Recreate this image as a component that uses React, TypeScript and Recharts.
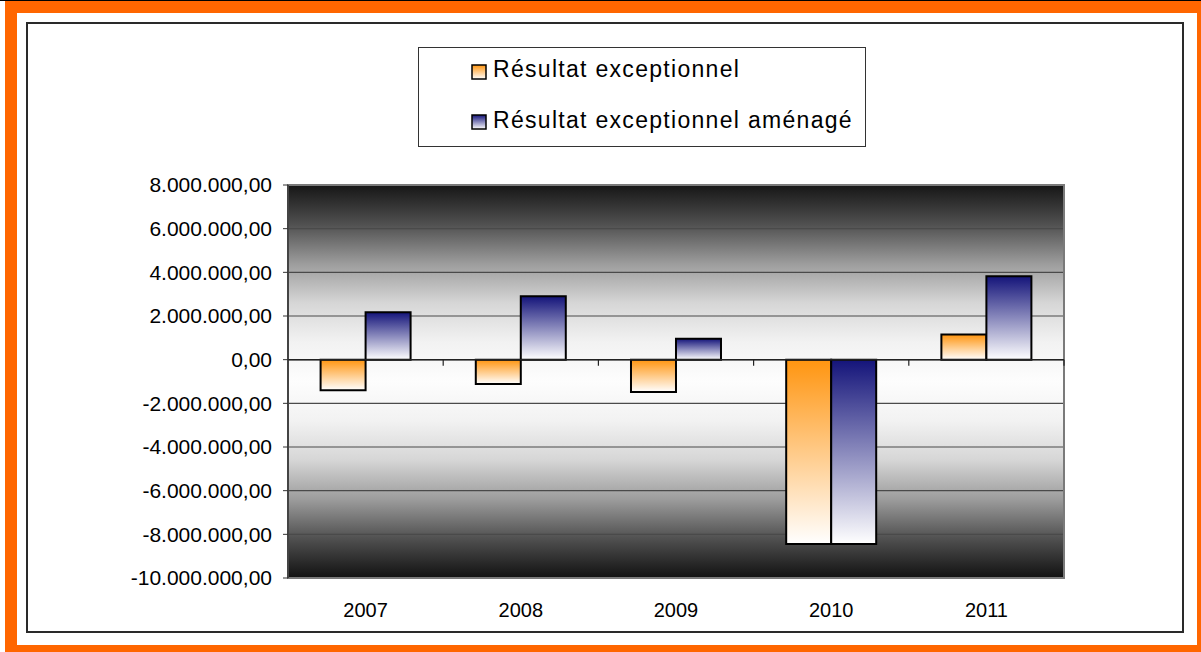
import React from 'react';
import { BarChart, Bar, XAxis, YAxis, CartesianGrid, ReferenceLine, ReferenceArea } from 'recharts';

const years = ['2007', '2008', '2009', '2010', '2011'];
const resultatExceptionnel = [-1400000, -1110000, -1480000, -8440000, 1150000];
const resultatAmenage = [2170000, 2900000, 960000, -8440000, 3820000];
const yTicks = [8000000, 6000000, 4000000, 2000000, 0, -2000000, -4000000, -6000000, -8000000, -10000000];
const seriesNames = ['Résultat exceptionnel', 'Résultat exceptionnel aménagé'];

const data = years.map((y, i) => ({ year: y, a: resultatExceptionnel[i], b: resultatAmenage[i] }));

const FONT = '"Liberation Sans", Arial, sans-serif';

const fmt = (v: number) => {
  const neg = v < 0;
  const s = Math.abs(Math.round(v)).toString().replace(/\B(?=(\d{3})+(?!\d))/g, '.');
  return (neg ? '-' : '') + s + ',00';
};

const ZeroLine = (p: any) => {
  const { x1, y1, x2, y2 } = p;
  const n = years.length;
  const ticks = [];
  for (let i = 1; i <= n; i++) {
    const x = x1 + (i * (x2 - x1)) / n;
    ticks.push(<line key={i} x1={x} x2={x} y1={y1} y2={y1 + 6} stroke="#222" strokeWidth={1.2} />);
  }
  return (
    <g>
      <line x1={x1} y1={y1} x2={x2} y2={y2} stroke="#222" strokeWidth={1.5} />
      {ticks}
    </g>
  );
};

export default function App() {
  return (
    <div style={{ position: 'absolute', left: 0, top: 0, width: 1201, height: 652, background: '#fff', overflow: 'hidden', fontFamily: FONT }}>
      <div style={{ position: 'absolute', left: 0, top: 0, width: 1201, height: 1, background: '#000' }} />
      <div
        style={{
          position: 'absolute', left: 5, top: 1, width: 1196, height: 651, boxSizing: 'border-box',
          borderStyle: 'solid', borderColor: '#FF6600', borderTopWidth: 12, borderLeftWidth: 12, borderRightWidth: 4, borderBottomWidth: 7,
        }}
      />
      <div style={{ position: 'absolute', left: 26, top: 22, width: 1158, height: 611, boxSizing: 'border-box', border: '2px solid #2a2a2a' }} />
      <div style={{ position: 'absolute', left: 0, top: 0 }}>
        <BarChart
          width={1201}
          height={652}
          data={data}
          margin={{ top: 185, right: 137, bottom: 14, left: 168 }}
          barCategoryGap="21%"
          barGap={0}
        >
          <defs>
            <linearGradient id="bgGrad" x1="0" y1="0" x2="0" y2="1">
              <stop offset="0%" stopColor="#161616" />
              <stop offset="10%" stopColor="#505050" />
              <stop offset="20%" stopColor="#9c9c9c" />
              <stop offset="30%" stopColor="#d6d6d6" />
              <stop offset="40%" stopColor="#f2f2f2" />
              <stop offset="50%" stopColor="#fdfdfd" />
              <stop offset="60%" stopColor="#f2f2f2" />
              <stop offset="70%" stopColor="#d6d6d6" />
              <stop offset="80%" stopColor="#9c9c9c" />
              <stop offset="90%" stopColor="#505050" />
              <stop offset="100%" stopColor="#111111" />
            </linearGradient>
            <linearGradient id="orangeGrad" x1="0" y1="0" x2="0" y2="1">
              <stop offset="0%" stopColor="#FF9510" />
              <stop offset="100%" stopColor="#FFFFFF" />
            </linearGradient>
            <linearGradient id="blueGrad" x1="0" y1="0" x2="0" y2="1">
              <stop offset="0%" stopColor="#14147A" />
              <stop offset="100%" stopColor="#FFFFFF" />
            </linearGradient>
          </defs>
          <CartesianGrid vertical={false} fill="url(#bgGrad)" fillOpacity={1} stroke="#4a4a4a" strokeWidth={1.2} />
          <XAxis
            dataKey="year"
            axisLine={false}
            tickLine={false}
            tickMargin={19}
            tick={{ fontSize: 20, fill: '#000', fontFamily: FONT }}
            height={60}
          />
          <YAxis
            domain={[-10000000, 8000000]}
            ticks={yTicks}
            interval={0}
            tickFormatter={fmt}
            width={120}
            tickSize={5}
            tickMargin={11}
            axisLine={{ stroke: '#333', strokeWidth: 1.5 }}
            tickLine={{ stroke: '#333' }}
            tick={{ fontSize: 21, fill: '#000', fontFamily: FONT }}
          />
          <ReferenceArea y1={-10000000} y2={8000000} fill="none" stroke="#7a7a7a" strokeWidth={2} />
          <ReferenceLine y={0} shape={ZeroLine} />
          <Bar dataKey="a" name={seriesNames[0]} fill="url(#orangeGrad)" stroke="#000" strokeWidth={2} isAnimationActive={false} />
          <Bar dataKey="b" name={seriesNames[1]} fill="url(#blueGrad)" stroke="#000" strokeWidth={2} isAnimationActive={false} />
        </BarChart>
      </div>
      <svg style={{ position: 'absolute', left: 418, top: 47 }} width={449} height={101}>
        <defs>
          <linearGradient id="lgO" x1="0" y1="0" x2="0" y2="1">
            <stop offset="0%" stopColor="#FF9510" />
            <stop offset="100%" stopColor="#FFFFFF" />
          </linearGradient>
          <linearGradient id="lgB" x1="0" y1="0" x2="0" y2="1">
            <stop offset="0%" stopColor="#14147A" />
            <stop offset="100%" stopColor="#FFFFFF" />
          </linearGradient>
        </defs>
        <rect x={0.5} y={0.5} width={447} height={99} fill="#fff" stroke="#333" strokeWidth={1} />
        <rect x={54} y={18} width={14} height={14} fill="url(#lgO)" stroke="#000" strokeWidth={1.5} />
        <rect x={54} y={68} width={14} height={14} fill="url(#lgB)" stroke="#000" strokeWidth={1.5} />
        <text x={75} y={30} fontSize={23} letterSpacing={1.3} fontFamily={FONT} fill="#000">{seriesNames[0]}</text>
        <text x={75} y={81} fontSize={23} letterSpacing={1.3} fontFamily={FONT} fill="#000">{seriesNames[1]}</text>
      </svg>
    </div>
  );
}
